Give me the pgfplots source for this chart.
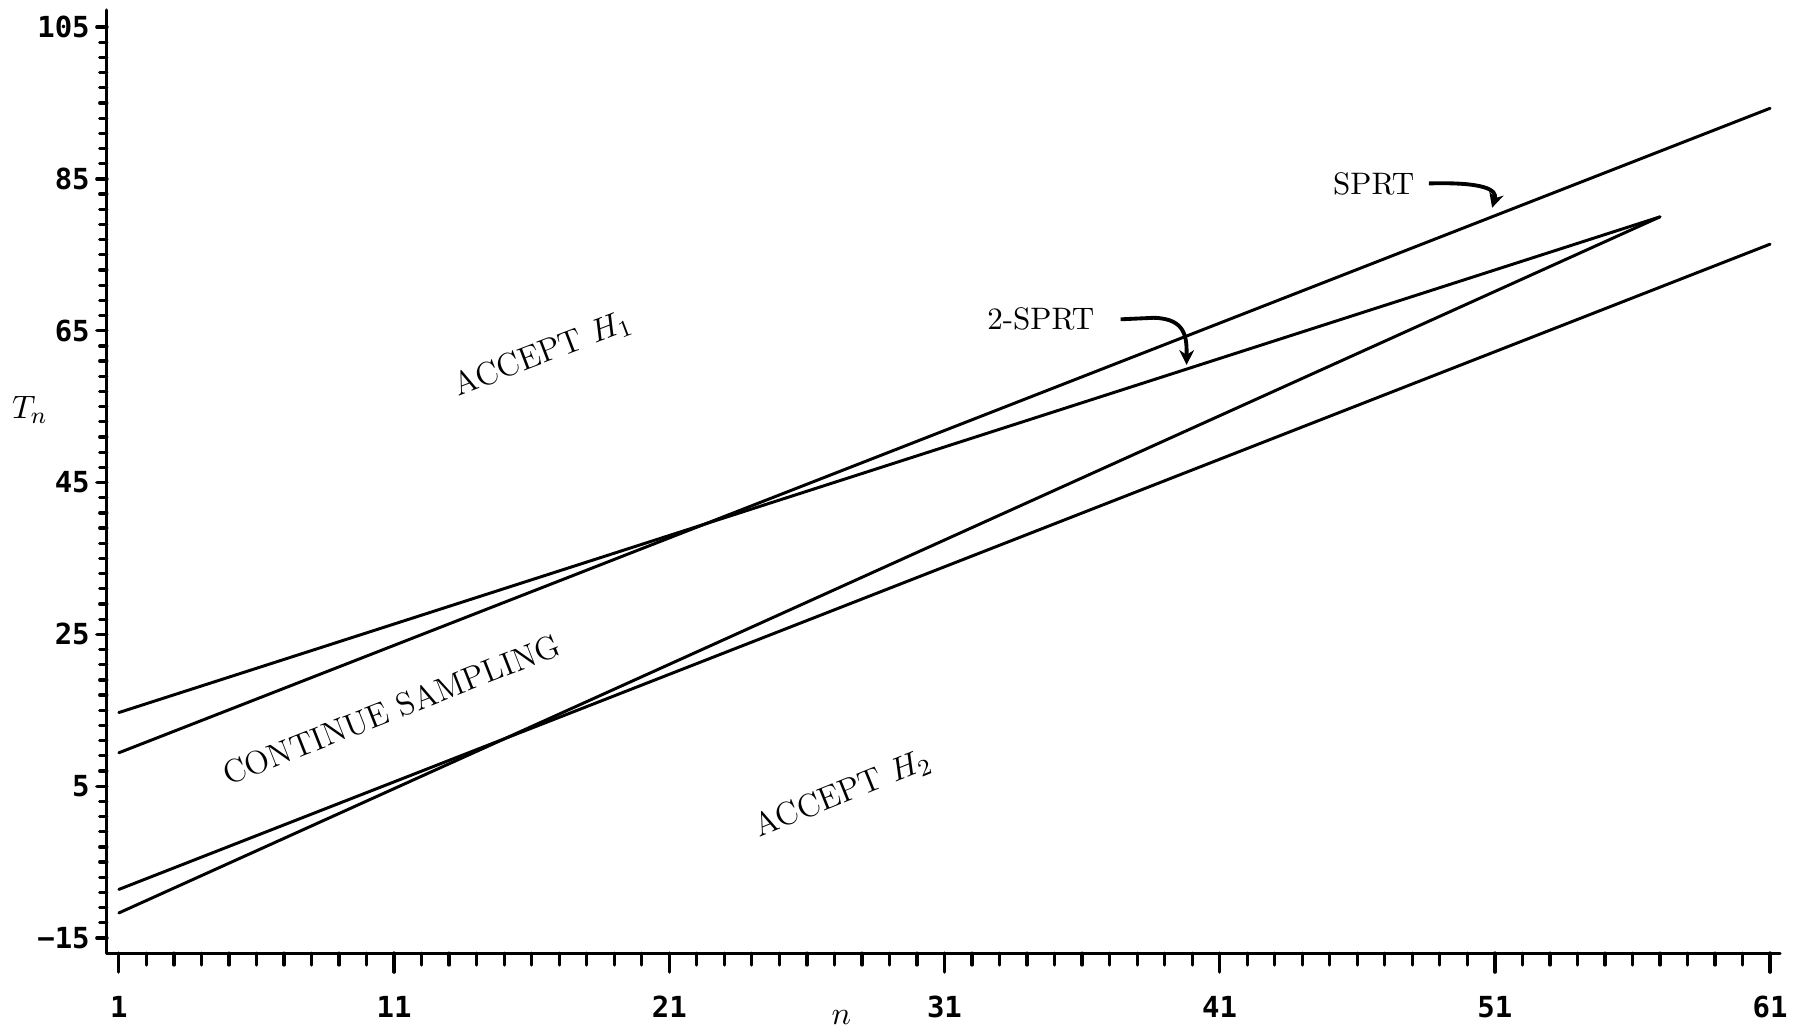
\documentclass[border=0pt]{standalone}
\usepackage{pgfplots}
\pgfplotsset{compat=1.18}
\usepackage{fontspec}
\newfontfamily\tickfont{DejaVu Sans Mono}
\usetikzlibrary{arrows.meta}

\begin{document}
\begin{tikzpicture}
\begin{axis}[
  scale only axis, width=565.2pt, height=318.6pt,
  xmin=0.564, xmax=61.36, ymin=-17, ymax=107.24,
  axis x line*=bottom, axis y line*=left,
  axis line style={line width=1.1pt, line cap=round},
  xtick={1,11,...,61}, xticklabels={1,11,21,31,41,51,61},
  ytick={-15,5,...,105}, yticklabels={−15,5,25,45,65,85,105},
  minor xtick={1,...,61}, minor ytick={-15,-13,...,105},
  tick align=outside,
  tick style={line width=1.1pt, black, line cap=round},
  major tick style={line width=1.1pt, black, line cap=round},
  minor tick style={line width=1.1pt, black, line cap=round},
  xtick style={line width=1.1pt, line cap=round, /pgfplots/major tick length=6.4pt, /pgfplots/minor tick length=4pt},
  ytick style={line width=1.1pt, line cap=round, /pgfplots/major tick length=3.4pt, /pgfplots/minor tick length=2.4pt},
  ticklabel style={font=\tickfont\bfseries\fontsize{9.8}{10}\selectfont},
  xticklabel style={anchor=north, yshift=-6.7pt},
  yticklabel style={anchor=east, xshift=2pt},
  xlabel={$n$},
  label style={font=\fontsize{11}{13}\selectfont},
  xlabel style={at={(axis description cs:0.439,0)}, anchor=center, yshift=-21.8pt},
  clip=false,
]
% SPRT boundaries
\addplot[line width=1pt, line cap=round] coordinates {(1,9.4) (61,94.3)};
\addplot[line width=1pt, line cap=round] coordinates {(1,-8.6) (61,76.4)};
% 2-SPRT boundaries
\addplot[line width=1pt, line cap=round] coordinates {(1,14.7) (57,80)};
\addplot[line width=1pt, line cap=round] coordinates {(1,-11.7) (57,80)};

\node[font=\fontsize{11}{13}\selectfont] at ([xshift=-26pt]axis description cs:0,0.576) {$T_n$};
\node[rotate=21, font=\fontsize{11}{13}\selectfont] at (axis cs:16.4,61.9) {ACCEPT $H_1$};
\node[rotate=21.5, font=\fontsize{11}{13}\selectfont] at (axis cs:10.9,15.1) {CONTINUE SAMPLING};
\node[rotate=22, font=\fontsize{11}{13}\selectfont] at (axis cs:27.3,4.0) {ACCEPT $H_2$};
\node[font=\fontsize{10.5}{12}\selectfont] at (axis cs:46.6,84.4) {SPRT};
\node[font=\fontsize{10.5}{12}\selectfont] at (axis cs:34.5,66.5) {2-SPRT};
\draw[line width=1.3pt, -{Stealth[length=5pt,width=5pt]}] (axis cs:48.6,84.4) .. controls (axis cs:50.6,84.6) and (axis cs:51.1,83.6) .. (axis cs:50.9,81.2);
\draw[line width=1.3pt, -{Stealth[length=5pt,width=5pt]}] (axis cs:37.4,66.5) -- (axis cs:38.6,66.7) .. controls (axis cs:39.8,66.6) and (axis cs:39.8,64) .. (axis cs:39.8,60.5);
\end{axis}
\pgfresetboundingbox
\path ([xshift=-36.1pt,yshift=-25.7pt]current axis.south west) rectangle ([xshift=9.8pt,yshift=3.4pt]current axis.north east);
\end{tikzpicture}
\end{document}
